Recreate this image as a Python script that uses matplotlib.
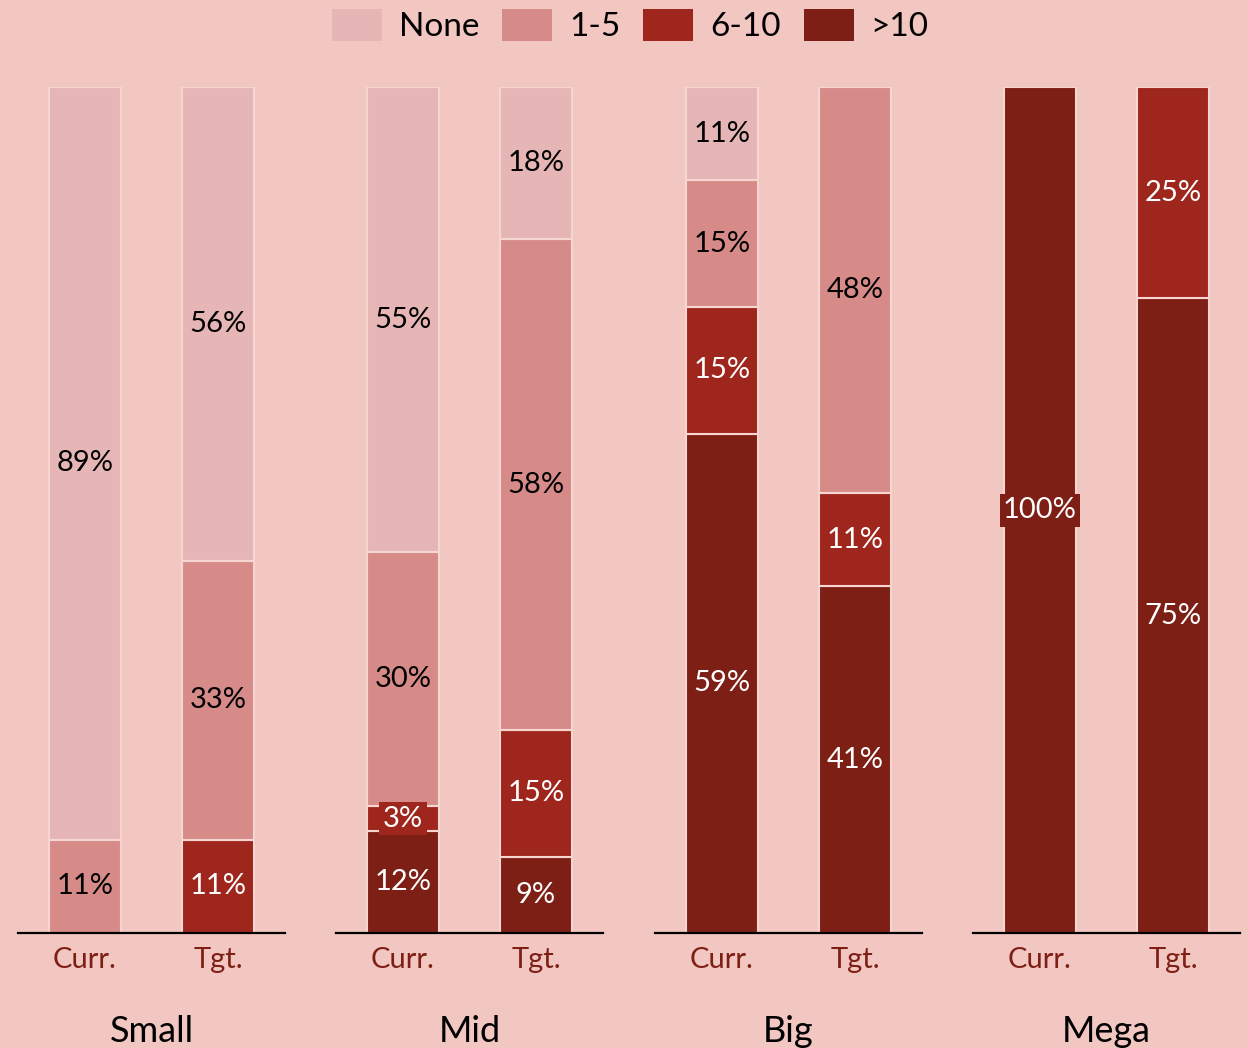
import numpy as np
import matplotlib.pyplot as plt
from matplotlib.patches import Patch

plt.rcParams['font.family'] = ['Lato', 'DejaVu Sans']

groups = ['Small', 'Mid', 'Big', 'Mega']
bars = ['Curr.', 'Tgt.']
levels = ['None', '1-5', '6-10', '>10']
colors = ['#E5B6B5', '#D68B89', '#9E261D', '#7E1F16']
text_colors = ['black', 'black', 'white', 'white']
bg = '#F2C6C1'

# share (%) per level, stacked from the top: None, 1-5, 6-10, >10
small_curr = [89, 11, 0, 0]
small_tgt = [56, 33, 11, 0]
mid_curr = [55, 30, 3, 12]
mid_tgt = [18, 58, 15, 9]
big_curr = [11, 15, 15, 59]
big_tgt = [0, 48, 11, 41]
mega_curr = [0, 0, 0, 100]
mega_tgt = [0, 0, 25, 75]

data = [[small_curr, small_tgt], [mid_curr, mid_tgt],
        [big_curr, big_tgt], [mega_curr, mega_tgt]]

fig = plt.figure(figsize=(12.48, 10.48), dpi=100, facecolor=bg)
lefts = [18, 336, 655, 973]
for gi, (g, left) in enumerate(zip(groups, lefts)):
    ax = fig.add_axes([left / 1248, 1 - 933 / 1048, 267 / 1248, 846 / 1048])
    ax.set_facecolor(bg)
    for bi, vals in enumerate(data[gi]):
        # stack from bottom: >10, 6-10, 1-5, None
        bottom = 0
        for li in [3, 2, 1, 0]:
            v = vals[li]
            if v == 0:
                continue
            ax.bar(bi, v, bottom=bottom, width=0.54, color=colors[li],
                   edgecolor='#F7D6D2', linewidth=1.5)
            ax.text(bi, bottom + v / 2, f'{v}%', ha='center', va='center',
                    fontsize=21, color=text_colors[li],
                    bbox=dict(facecolor=colors[li], edgecolor='none', pad=2.5))
            bottom += v
    ax.set_xlim(-0.504, 1.504)
    ax.set_ylim(0, 100)
    ax.set_yticks([])
    ax.set_xticks([0, 1])
    ax.set_xticklabels(bars, fontsize=21, color='#7E1F16')
    ax.tick_params(axis='x', length=0, pad=10)
    for s in ['top', 'left', 'right']:
        ax.spines[s].set_visible(False)
    ax.spines['bottom'].set_linewidth(1.6)
    ax.spines['bottom'].set_color('black')
    ax.set_xlabel(g, fontsize=26, labelpad=30)

handles = [Patch(facecolor=c, label=l) for c, l in zip(colors, levels)]
fig.legend(handles=handles, loc='upper center', bbox_to_anchor=(0.505, 1.02),
           ncol=4, frameon=False, fontsize=24, handlelength=1.5,
           handleheight=1.1, columnspacing=0.7, handletextpad=0.5)

fig.savefig('out.png', dpi=100, facecolor=bg)
